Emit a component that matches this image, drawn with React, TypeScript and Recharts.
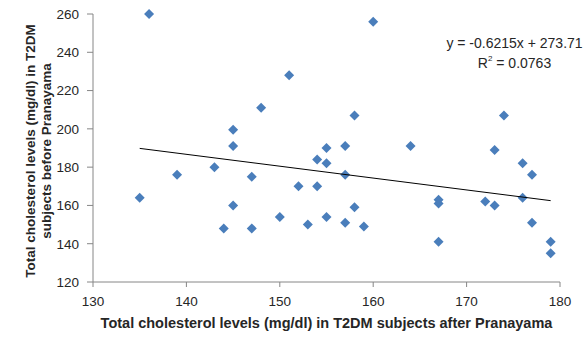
import { Scatter, ScatterChart, XAxis, YAxis } from "recharts";

// before vs after pranayama
const afterValues = [135, 136, 139, 143, 144, 145, 145, 145, 147, 147, 148, 150, 151, 152, 153, 154, 154, 155, 155, 155, 157, 157, 157, 158, 158, 159, 160, 164, 167, 167, 167, 172, 173, 173, 174, 176, 176, 177, 177, 179, 179];
const beforeValues = [164, 260, 176, 180, 148, 199.5, 191, 160, 175, 148, 211, 154, 228, 170, 150, 184, 170, 190, 182, 154, 191, 176, 151, 207, 159, 149, 256, 191, 163, 161, 141, 162, 189, 160, 207, 182, 164, 176, 151, 141, 135];

// linear trend endpoints (y = -0.6215x + 273.71)
const trendX = [135, 179];
const trendY = [189.8, 162.5];

const xTicks = [130, 140, 150, 160, 170, 180];
const yTicks = [120, 140, 160, 180, 200, 220, 240, 260];

const points = afterValues.map((x, i) => ({ x, y: beforeValues[i] }));
const trend = trendX.map((x, i) => ({ x, y: trendY[i] }));

const axisColor = "#868686";
const textColor = "#262626";
const font = "'Liberation Sans', Arial, sans-serif";

const Diamond = (props: any) => {
  const { cx, cy } = props;
  if (cx == null || cy == null) return <g />;
  const r = 5;
  return <path d={`M${cx},${cy - r}L${cx + r},${cy}L${cx},${cy + r}L${cx - r},${cy}Z`} fill="#4A7EBB" />;
};

const YTitle = (props: any) => {
  const vb = props.viewBox;
  const cx = 38;
  const cy = vb.y + vb.height / 2 + 3;
  return (
    <text
      transform={`rotate(-90, ${cx}, ${cy})`}
      x={cx}
      y={cy}
      textAnchor="middle"
      fontFamily={font}
      fontWeight="bold"
      fontSize={13.5}
      fill={textColor}
    >
      <tspan x={cx} dy={-3}>Total cholesterol levels (mg/dl) in T2DM</tspan>
      <tspan x={cx} dy={16}>subjects before Pranayama</tspan>
    </text>
  );
};

export default function App() {
  return (
    <div style={{ position: "absolute", left: 0, top: 0, width: 587, height: 338, background: "#fff" }}>
      <ScatterChart width={587} height={338} margin={{ top: 14, right: 27, bottom: 0, left: 0 }}>
        <XAxis
          type="number"
          dataKey="x"
          domain={[130, 180]}
          ticks={xTicks}
          height={56}
          tickSize={5}
          tickMargin={9}
          stroke={axisColor}
          tick={{ fill: textColor, fontSize: 13.5, fontFamily: font }}
          label={{
            value: "Total cholesterol levels (mg/dl) in T2DM subjects after Pranayama",
            position: "insideBottom",
            offset: 10,
            style: { fill: textColor, fontSize: 14.5, fontWeight: "bold", fontFamily: font },
          }}
        />
        <YAxis
          type="number"
          dataKey="y"
          domain={[120, 260]}
          ticks={yTicks}
          width={93}
          tickSize={6}
          tickMargin={8}
          stroke={axisColor}
          tick={{ fill: textColor, fontSize: 13.5, fontFamily: font }}
          label={<YTitle />}
        />
        <Scatter data={points} shape={<Diamond />} isAnimationActive={false} />
        <Scatter data={trend} line={{ stroke: "#000", strokeWidth: 1 }} shape={() => <g />} isAnimationActive={false} />
      </ScatterChart>
      <div
        style={{
          position: "absolute",
          left: 437,
          top: 33,
          width: 155,
          textAlign: "center",
          fontFamily: font,
          fontSize: 14,
          lineHeight: "20px",
          color: textColor,
        }}
      >
        <div>y = -0.6215x + 273.71</div>
        <div>
          R<sup style={{ fontSize: 8, verticalAlign: "top", lineHeight: "12px" }}>2</sup> = 0.0763
        </div>
      </div>
    </div>
  );
}
